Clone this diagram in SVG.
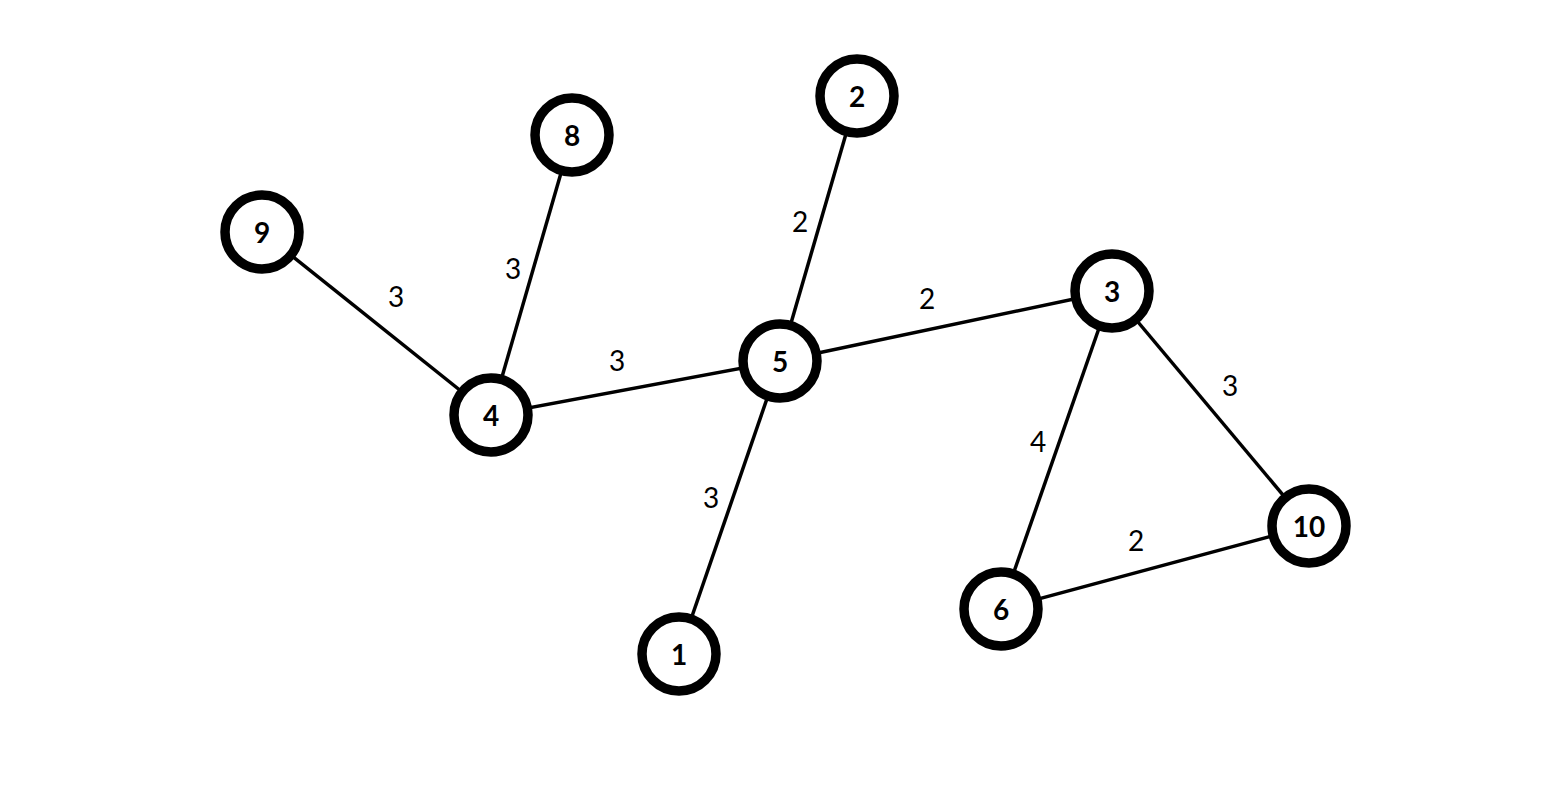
<svg xmlns="http://www.w3.org/2000/svg" width="1566" height="804" viewBox="0 0 1566 804">
<style>
.edge{stroke:#000;stroke-width:3.5;fill:none}
.node circle{fill:#fff;stroke:#000;stroke-width:9.5}
.node text{font-family:Lato,"Liberation Sans",sans-serif;font-weight:bold;font-size:28px;text-anchor:middle;dominant-baseline:central;fill:#000}
.lbl{font-family:Lato,"Liberation Sans",sans-serif;font-size:28px;text-anchor:middle;dominant-baseline:central;fill:#000}
</style>
<rect width="1566" height="804" fill="#fff"/>
<g id="connectors">
<line class="edge" x1="262" y1="232" x2="491" y2="415"/>
<line class="edge" x1="572" y1="135" x2="491" y2="415"/>
<line class="edge" x1="491" y1="415" x2="780" y2="361"/>
<line class="edge" x1="857" y1="96" x2="780" y2="361"/>
<line class="edge" x1="780" y1="361" x2="1112" y2="291"/>
<line class="edge" x1="780" y1="361" x2="679" y2="654"/>
<line class="edge" x1="1112" y1="291" x2="1001" y2="609"/>
<line class="edge" x1="1112" y1="291" x2="1309" y2="526"/>
<line class="edge" x1="1001" y1="609" x2="1309" y2="526"/>
<text class="lbl" x="396" y="296">3</text>
<text class="lbl" x="513" y="268">3</text>
<text class="lbl" x="617" y="360">3</text>
<text class="lbl" x="800" y="221">2</text>
<text class="lbl" x="927" y="298">2</text>
<text class="lbl" x="711" y="497">3</text>
<text class="lbl" x="1038" y="441">4</text>
<text class="lbl" x="1230" y="385">3</text>
<text class="lbl" x="1136" y="540">2</text>
</g>
<g id="node-9" class="node"><circle cx="262" cy="232" r="37"/><text x="262" y="232">9</text></g>
<g id="node-8" class="node"><circle cx="572" cy="135" r="37"/><text x="572" y="135">8</text></g>
<g id="node-2" class="node"><circle cx="857" cy="96" r="37"/><text x="857" y="96">2</text></g>
<g id="node-5" class="node"><circle cx="780" cy="361" r="37"/><text x="780" y="361">5</text></g>
<g id="node-3" class="node"><circle cx="1112" cy="291" r="37"/><text x="1112" y="291">3</text></g>
<g id="node-4" class="node"><circle cx="491" cy="415" r="37"/><text x="491" y="415">4</text></g>
<g id="node-1" class="node"><circle cx="679" cy="654" r="37"/><text x="679" y="654">1</text></g>
<g id="node-6" class="node"><circle cx="1001" cy="609" r="37"/><text x="1001" y="609">6</text></g>
<g id="node-10" class="node"><circle cx="1309" cy="526" r="37"/><text x="1309" y="526">10</text></g>
</svg>
